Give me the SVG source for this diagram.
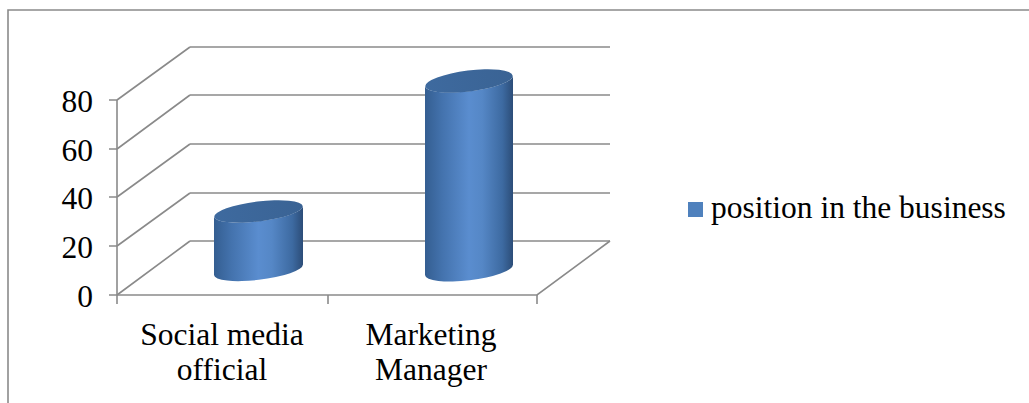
<svg xmlns="http://www.w3.org/2000/svg" width="1029" height="403" viewBox="0 0 1029 403">
<style>
.grid{stroke:#8a8a8a;stroke-width:1.6;fill:none}
.lbl{font-family:"Liberation Serif","Times New Roman",serif;font-size:31.5px;fill:#000}
.top{fill:url(#topg)}
.side{fill:url(#sideg)}
</style>
<defs>
<linearGradient id="sideg" x1="0" y1="0" x2="1" y2="0">
<stop offset="0" stop-color="#345E91"/>
<stop offset="0.2" stop-color="#4473AE"/>
<stop offset="0.5" stop-color="#5A8DCF"/>
<stop offset="0.65" stop-color="#5587C6"/>
<stop offset="0.88" stop-color="#3D6AA1"/>
<stop offset="1" stop-color="#2C4D78"/>
</linearGradient>
<linearGradient id="topg" x1="0" y1="0" x2="1" y2="0">
<stop offset="0" stop-color="#3E6A9F"/>
<stop offset="1" stop-color="#3A6394"/>
</linearGradient>
</defs>
<rect width="1029" height="403" fill="#fff"/>
<path d="M8,403 V10 H1029" stroke="#8a8a8a" stroke-width="1.6" fill="none"/>
<g id="axes">
<path class="grid" d="M190,47 H610 M190,95 H610 M190,144 H610 M190,193 H610 M190,241 H610"/>
<path class="grid" d="M117,100 L190,47 M117,149 L190,95 M117,197 L190,144 M117,246 L190,193 M117,295 L190,241"/>
<path class="grid" d="M117,295 H537 L610,241"/>
<path class="grid" d="M117,100 V304 M109,100 H117 M109,149 H117 M109,197 H117 M109,246 H117 M109,295 H117 M328,295 V304 M537,295 V304"/>
</g>
<g id="ylabels" class="lbl" text-anchor="end">
<text x="93" y="112">80</text>
<text x="93" y="161">60</text>
<text x="93" y="209">40</text>
<text x="93" y="258">20</text>
<text x="93" y="307">0</text>
</g>
<g id="bar1">
<path class="side" d="M214,216.5 L214,275 A44.5 10 -7 0 0 303,264.5 L303,206 A44.5 10 -7 0 1 214,216.5 Z"/>
<ellipse class="top" cx="258.5" cy="211.5" rx="44.5" ry="10" transform="rotate(-7 258.5 211.5)"/>
</g>
<g id="bar2">
<path class="side" d="M425,86 L425,275 A44 10.5 -7 0 0 513,264.5 L513,75.5 A44 10.5 -7 0 1 425,86 Z"/>
<ellipse class="top" cx="469" cy="81" rx="44" ry="10.5" transform="rotate(-7 469 81)"/>
</g>
<g id="xlabels" class="lbl" text-anchor="middle">
<text x="222" y="345">Social media</text>
<text x="222" y="380">official</text>
<text x="431" y="345">Marketing</text>
<text x="431" y="380">Manager</text>
</g>
<g id="legend">
<rect x="688" y="202" width="15" height="15" fill="#4F81BD"/>
<text class="lbl" x="711" y="218">position in the business</text>
</g>
</svg>
